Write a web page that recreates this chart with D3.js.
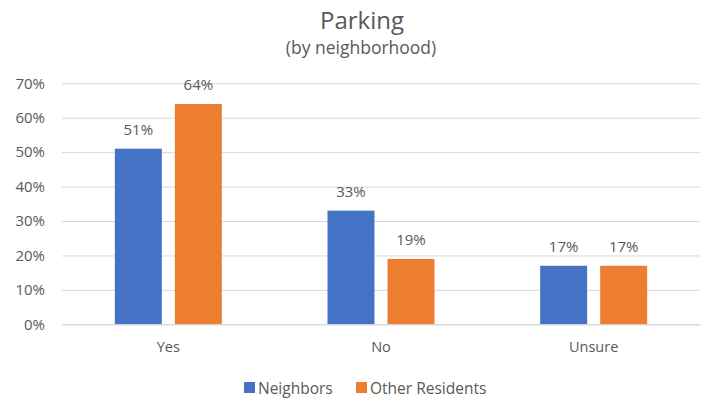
<!DOCTYPE html>
<html>
<head>
<meta charset="utf-8">
<script src="https://cdn.jsdelivr.net/npm/d3@7"></script>
<style>
  html, body { margin: 0; padding: 0; background: #fff; }
  svg { display: block; font-family: "Open Sans", "Liberation Sans", sans-serif; }
</style>
</head>
<body>
<svg id="chart" width="703" height="398"></svg>
<script>
// Survey answers about parking, split by respondent group
const categories = ["Yes", "No", "Unsure"];
const seriesNames = ["Neighbors", "Other Residents"];
const neighbors = [0.51, 0.33, 0.17];
const otherResidents = [0.64, 0.19, 0.17];
const neighborsLabels = ["51%", "33%", "17%"];
const otherLabels = ["64%", "19%", "17%"];
const yTicks = [0, 0.1, 0.2, 0.3, 0.4, 0.5, 0.6, 0.7];
const colors = ["#4472C4", "#ED7D31"];

const seriesValues = [neighbors, otherResidents];
const seriesLabels = [neighborsLabels, otherLabels];

const svg = d3.select("#chart");
const textColor = "#595959";

const plot = { left: 62, right: 700, top: 83.3, bottom: 324.3 };

const x = d3.scaleBand().domain(categories).range([plot.left, plot.right]).padding(0);
const y = d3.scaleLinear().domain([0, 0.7]).range([plot.bottom, plot.top]);

// Title and subtitle
svg.append("text")
  .attr("x", 362).attr("y", 29)
  .attr("text-anchor", "middle")
  .attr("fill", textColor)
  .style("font-size", "24px")
  .text("Parking");
svg.append("text")
  .attr("x", 361).attr("y", 54)
  .attr("text-anchor", "middle")
  .attr("fill", textColor)
  .style("font-size", "17.5px")
  .text("(by neighborhood)");

// Horizontal gridlines with percentage labels
const yAxis = d3.axisLeft(y)
  .tickValues(yTicks)
  .tickFormat(d3.format(".0%"))
  .tickSize(-(plot.right - plot.left))
  .tickPadding(17);

const gy = svg.append("g")
  .attr("transform", `translate(${plot.left},0)`)
  .call(yAxis);
gy.select(".domain").remove();
gy.selectAll(".tick line").attr("stroke", "#d9d9d9").attr("stroke-width", 1);
gy.selectAll(".tick text")
  .attr("fill", textColor)
  .style("font-size", "15px")
  .style("font-family", "Open Sans, sans-serif");

// Bars, one group per category
const inner = d3.scaleBand().domain(seriesNames).paddingInner(0.217).paddingOuter(0);
const groupWidth = 107;
inner.range([0, groupWidth]);

const groups = svg.append("g").selectAll("g")
  .data(categories)
  .join("g")
  .attr("transform", d => `translate(${x(d) + x.bandwidth() / 2 - groupWidth / 2},0)`);

seriesNames.forEach((name, si) => {
  groups.append("rect")
    .attr("x", inner(name))
    .attr("width", inner.bandwidth())
    .attr("y", (d, i) => y(seriesValues[si][i]))
    .attr("height", (d, i) => y(0) - y(seriesValues[si][i]))
    .attr("fill", colors[si]);
  groups.append("text")
    .attr("x", inner(name) + inner.bandwidth() / 2)
    .attr("y", (d, i) => y(seriesValues[si][i]) - 14)
    .attr("text-anchor", "middle")
    .attr("fill", textColor)
    .style("font-size", "15px")
    .text((d, i) => seriesLabels[si][i]);
});

// Category labels
const xAxis = d3.axisBottom(x).tickSize(0).tickPadding(17);
const gx = svg.append("g")
  .attr("transform", `translate(0,${plot.bottom})`)
  .call(xAxis);
gx.select(".domain").attr("stroke", "#d9d9d9");
gx.selectAll(".tick text")
  .attr("fill", textColor)
  .style("font-size", "14.5px")
  .style("font-family", "Open Sans, sans-serif");

// Legend
const legend = svg.append("g").attr("transform", "translate(244,388)");
const legendX = [0, 112];
seriesNames.forEach((name, i) => {
  const g = legend.append("g").attr("transform", `translate(${legendX[i]},0)`);
  g.append("rect").attr("x", 0).attr("y", -6).attr("width", 11).attr("height", 11).attr("fill", colors[i]);
  g.append("text")
    .attr("x", 14).attr("y", 5.5)
    .attr("fill", textColor)
    .style("font-size", "15.5px")
    .text(name);
});
</script>
</body>
</html>
